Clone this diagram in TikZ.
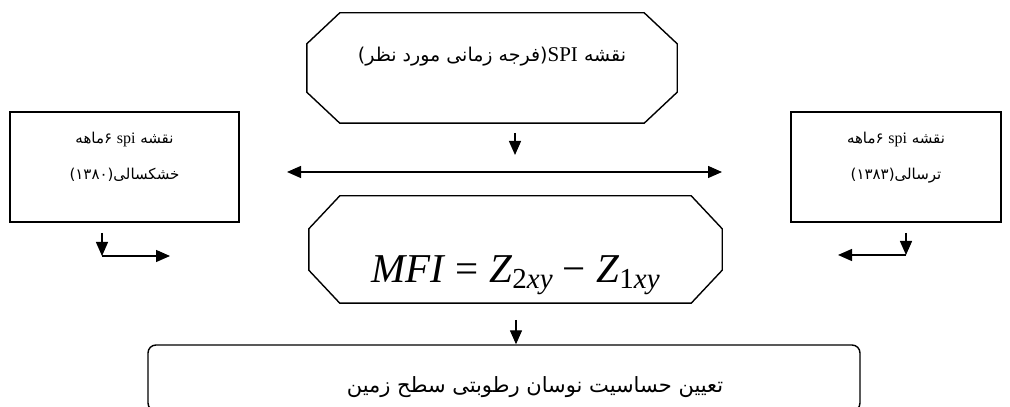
\documentclass[tikz,border=0pt]{standalone}
\usepackage{fontspec}
\setmainfont{Liberation Serif}
\newfontfamily\arabicfont[Script=Arabic]{DejaVu Sans}
\TeXXeTstate=1
\usetikzlibrary{arrows.meta}

\begin{document}
\begin{tikzpicture}[x=1pt,y=1pt,
    box/.style={draw, line width=1.4pt, inner sep=0pt, align=center},
    octbox/.style={inner sep=0pt},
    arr/.style={line width=1.4pt, -{Triangle[length=14pt,width=12pt]}},
    darr/.style={line width=1.4pt, {Triangle[length=14pt,width=12pt]}-{Triangle[length=14pt,width=12pt]}}]
  \useasboundingbox (0,0) rectangle (1010,407);
  \node [octbox, minimum width=370pt, minimum height=110pt, text height=10pt, text depth=22pt,
         font=\fontsize{19}{20}\selectfont\arabicfont] (spimap) at (492,339)
    {\beginR نقشه {\rmfamily\fontsize{21}{21}\selectfont SPI}(فرجه زمانی مورد نظر)\endR};
  \node [box, minimum width=229pt, minimum height=110pt, text height=28pt, text depth=2pt,
         font=\fontsize{15}{36}\selectfont\arabicfont] (drymap) at (124.5,240)
    {\beginR نقشه {\rmfamily\fontsize{16}{16}\selectfont spi} ۶ماهه\endR\\ \beginR خشکسالی(۱۳۸۰)\endR};
  \node [box, minimum width=210pt, minimum height=110pt, text height=28pt, text depth=2pt,
         font=\fontsize{15}{36}\selectfont\arabicfont] (wetmap) at (896,240)
    {\beginR نقشه {\rmfamily\fontsize{16}{16}\selectfont spi} ۶ماهه\endR\\ \beginR ترسالی(۱۳۸۳)\endR};
  \node [octbox, minimum width=413pt, minimum height=107pt, text height=70pt, text depth=3pt,
         font=\fontsize{41}{42}\selectfont] (mfi) at (515.5,157.5)
    {\textit{MFI} = \textit{Z}\raisebox{-6pt}{\fontsize{29}{29}\selectfont 2\textit{xy}} − \textit{Z}\raisebox{-6pt}{\fontsize{29}{29}\selectfont 1\textit{xy}}};
  \node [box, rounded corners=8pt, minimum width=712pt, minimum height=66pt, text height=32pt, text depth=2pt,
         font=\fontsize{21}{22}\selectfont\arabicfont] (result) at (504,29)
    {\hspace*{62pt}\beginR تعیین حساسیت نوسان رطوبتی سطح زمین\endR};
  \foreach \n/\cx/\cy in {spimap/33/31, mfi/31/33}
    \draw [line width=1.4pt] ([xshift=\cx]\n.north west) -- ([xshift=-\cx]\n.north east)
      -- ([yshift=-\cy]\n.north east) -- ([yshift=\cy]\n.south east)
      -- ([xshift=-\cx]\n.south east) -- ([xshift=\cx]\n.south west)
      -- ([yshift=\cy]\n.south west) -- ([yshift=-\cy]\n.north west) -- cycle;
  \coordinate (spidrop) at (515,274);
  \coordinate (spihit) at (515,252);
  \coordinate (splitl) at (287,235);
  \coordinate (splitr) at (722,235);
  \coordinate (drydrop) at (102,174);
  \coordinate (drycorner) at (102,151);
  \coordinate (dryend) at (170,151);
  \coordinate (wetdrop) at (906,174);
  \coordinate (wetcorner) at (906,152);
  \coordinate (wetend) at (838,152);
  \coordinate (mfidrop) at (516,87);
  \draw [arr] (spidrop) -- (spihit);
  \draw [darr] (splitl) -- (splitr);
  \draw [arr] (drydrop) -- (drycorner);
  \draw [arr] (drycorner) -- (dryend);
  \draw [arr] (wetdrop) -- (wetcorner);
  \draw [arr] (wetcorner) -- (wetend);
  \draw [arr] (mfidrop) -- (result.north -| mfidrop);
\end{tikzpicture}
\end{document}
